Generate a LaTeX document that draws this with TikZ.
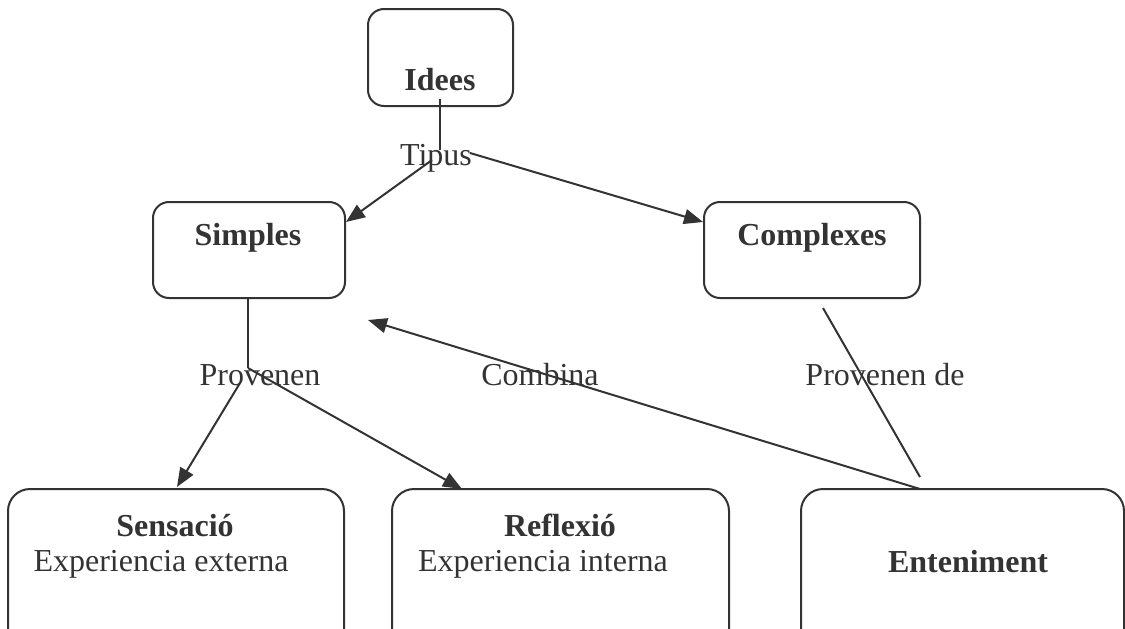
\documentclass[tikz,border=0pt]{standalone}
\usepackage{fontspec}
\setmainfont{Liberation Serif}
\usetikzlibrary{arrows.meta}
\definecolor{ink}{HTML}{333333}
\tikzset{
  box/.style={draw=ink, line width=2pt, rounded corners=16pt, inner sep=0pt, anchor=north west},
  bigbox/.style={box, rounded corners=22pt},
  txt/.style={text=ink, anchor=base, inner sep=0pt, font=\fontsize{32}{38}\selectfont},
  btxt/.style={txt, font=\fontsize{32}{38}\selectfont\bfseries},
  conn/.style={draw=ink, line width=2pt},
  arr/.style={conn, -{Triangle[length=19pt,width=15pt]}}
}
\begin{document}
\begin{tikzpicture}[x=1pt,y=-1pt]
\useasboundingbox (0,0) rectangle (1125,629);
\clip (0,0) rectangle (1125,629);
% boxes
\node[box, minimum width=145pt, minimum height=97pt] (idees) at (367,8) {};
\node[box, minimum width=192pt, minimum height=96pt] (simples) at (152,201) {};
\node[box, minimum width=216pt, minimum height=96pt] (complexes) at (703,201) {};
\node[bigbox, minimum width=336pt, minimum height=200pt] (sensacio) at (7,488) {};
\node[bigbox, minimum width=337pt, minimum height=200pt] (reflexio) at (391,488) {};
\node[bigbox, minimum width=323pt, minimum height=200pt] (enteniment) at (800,488) {};
% texts
\node[btxt] (tIdees) at (440,90) {Idees};
\node[btxt] (tSimples) at (248,245) {Simples};
\node[btxt] (tComplexes) at (812,245) {Complexes};
\node[btxt] (tSens) at (175,536) {Sensació};
\node[txt] (tSens2) at (161,571) {Experiencia externa};
\node[btxt] (tRefl) at (560,536) {Reflexió};
\node[txt] (tRefl2) at (543,571) {Experiencia interna};
\node[btxt] (tEnt) at (968,572) {Enteniment};
% link labels
\node[txt] (tipus) at (436,165) {Tipus};
\node[txt] (provenen) at (260,385) {Provenen};
\node[txt] (combina) at (540,385) {Combina};
\node[txt] (provde) at (885,385) {Provenen de};
% connector points
\coordinate (a0) at (440,99);
\coordinate (a1) at (440,150);
\coordinate (a2) at (432,160);
\coordinate (a3) at (346,222);
\coordinate (a4) at (470,153);
\coordinate (a5) at (703,222);
\coordinate (b0) at (248,297);
\coordinate (b1) at (248,368);
\coordinate (b2) at (240,383);
\coordinate (b3) at (177,487);
\coordinate (b4) at (462,489);
\coordinate (c0) at (823,308);
\coordinate (c1) at (920,477);
\coordinate (d0) at (920,489);
\coordinate (d1) at (368,320);
% connectors
\draw[conn] (a0) -- (a1);
\draw[arr] (a2) -- (a3);
\draw[arr] (a4) -- (a5);
\draw[conn] (b0) -- (b1);
\draw[arr] (b2) -- (b3);
\draw[arr] (b1) -- (b4);
\draw[conn] (c0) -- (c1);
\draw[arr] (d0) -- (d1);
\end{tikzpicture}
\end{document}
